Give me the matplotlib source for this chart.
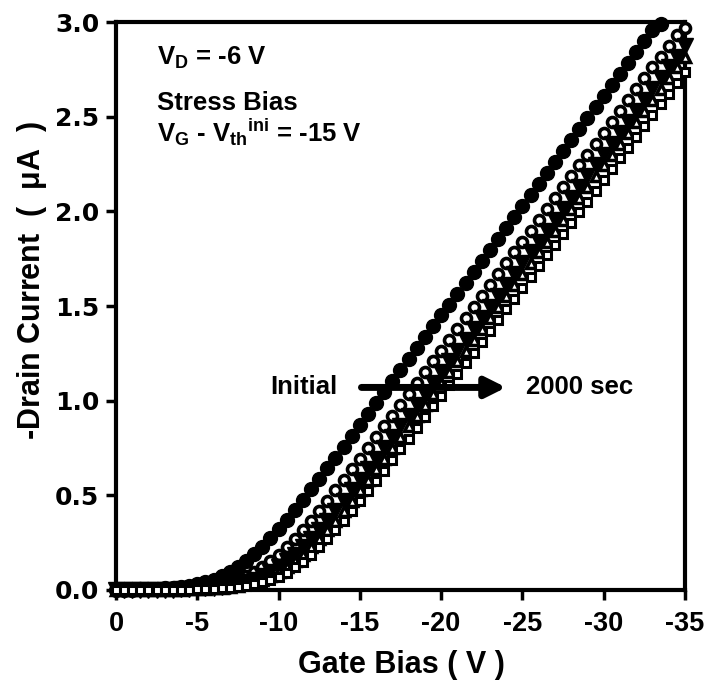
import matplotlib
matplotlib.use('Agg')
import matplotlib.pyplot as plt

plt.rcParams['font.family'] = 'Liberation Sans'
plt.rcParams['font.weight'] = 'bold'
plt.rcParams['axes.unicode_minus'] = False
plt.rcParams['mathtext.fontset'] = 'custom'
plt.rcParams['mathtext.rm'] = 'Liberation Sans:bold'
plt.rcParams['mathtext.bf'] = 'Liberation Sans:bold'
plt.rcParams['mathtext.it'] = 'Liberation Sans:bold'
plt.rcParams['mathtext.default'] = 'bf'

# gate bias sweep (V)
gate_bias = [0, -0.5, -1, -1.5, -2, -2.5, -3, -3.5, -4, -4.5,
             -5, -5.5, -6, -6.5, -7, -7.5, -8, -8.5, -9, -9.5,
             -10, -10.5, -11, -11.5, -12, -12.5, -13, -13.5, -14, -14.5,
             -15, -15.5, -16, -16.5, -17, -17.5, -18, -18.5, -19, -19.5,
             -20, -20.5, -21, -21.5, -22, -22.5, -23, -23.5, -24, -24.5,
             -25, -25.5, -26, -26.5, -27, -27.5, -28, -28.5, -29, -29.5,
             -30, -30.5, -31, -31.5, -32, -32.5, -33, -33.5, -34, -34.5,
             -35]

# -drain current (uA), initial and after stress
initial = [0.001, 0.002, 0.002, 0.003, 0.004, 0.006, 0.009, 0.012, 0.016, 0.022,
           0.030, 0.041, 0.055, 0.072, 0.094, 0.121, 0.152, 0.188, 0.229, 0.273,
           0.320, 0.370, 0.422, 0.476, 0.531, 0.586, 0.643, 0.699, 0.756, 0.814,
           0.871, 0.929, 0.987, 1.044, 1.102, 1.160, 1.218, 1.276, 1.334, 1.392,
           1.450, 1.508, 1.566, 1.624, 1.682, 1.740, 1.798, 1.856, 1.914, 1.972,
           2.030, 2.088, 2.146, 2.204, 2.262, 2.320, 2.378, 2.436, 2.494, 2.552,
           2.610, 2.668, 2.726, 2.784, 2.842, 2.900, 2.958, 2.990]

stress_a = [0.000, 0.001, 0.001, 0.001, 0.002, 0.002, 0.003, 0.004, 0.006, 0.008,
            0.012, 0.016, 0.022, 0.030, 0.040, 0.054, 0.072, 0.093, 0.120, 0.151,
            0.187, 0.227, 0.270, 0.317, 0.367, 0.419, 0.472, 0.526, 0.581, 0.637,
            0.693, 0.750, 0.807, 0.864, 0.921, 0.978, 1.035, 1.093, 1.150, 1.208,
            1.265, 1.323, 1.380, 1.438, 1.495, 1.553, 1.610, 1.668, 1.725, 1.783,
            1.840, 1.898, 1.955, 2.013, 2.070, 2.128, 2.185, 2.243, 2.300, 2.358,
            2.415, 2.473, 2.530, 2.588, 2.645, 2.703, 2.760, 2.818, 2.875, 2.933,
            2.970]

stress_b = [0.000, 0.000, 0.000, 0.001, 0.001, 0.001, 0.002, 0.002, 0.003, 0.004,
            0.006, 0.008, 0.012, 0.016, 0.022, 0.030, 0.040, 0.054, 0.072, 0.093,
            0.120, 0.151, 0.187, 0.227, 0.270, 0.317, 0.367, 0.419, 0.472, 0.526,
            0.581, 0.637, 0.693, 0.750, 0.807, 0.864, 0.921, 0.978, 1.035, 1.093,
            1.150, 1.208, 1.265, 1.323, 1.380, 1.438, 1.495, 1.553, 1.610, 1.668,
            1.725, 1.783, 1.840, 1.898, 1.955, 2.013, 2.070, 2.128, 2.185, 2.243,
            2.300, 2.358, 2.415, 2.473, 2.530, 2.588, 2.645, 2.703, 2.760, 2.818,
            2.875]

stress_c = [0.000, 0.000, 0.000, 0.000, 0.001, 0.001, 0.001, 0.002, 0.002, 0.003,
            0.004, 0.006, 0.008, 0.012, 0.016, 0.022, 0.030, 0.040, 0.054, 0.072,
            0.093, 0.120, 0.151, 0.187, 0.227, 0.270, 0.317, 0.367, 0.419, 0.472,
            0.526, 0.581, 0.637, 0.693, 0.750, 0.807, 0.864, 0.921, 0.978, 1.035,
            1.093, 1.150, 1.208, 1.265, 1.323, 1.380, 1.438, 1.495, 1.553, 1.610,
            1.668, 1.725, 1.783, 1.840, 1.898, 1.955, 2.013, 2.070, 2.128, 2.185,
            2.243, 2.300, 2.358, 2.415, 2.473, 2.530, 2.588, 2.645, 2.703, 2.760,
            2.818]

stress_2000s = [0.000, 0.000, 0.000, 0.000, 0.000, 0.001, 0.001, 0.001, 0.002, 0.002,
                0.003, 0.004, 0.006, 0.008, 0.012, 0.016, 0.022, 0.030, 0.040, 0.054,
                0.071, 0.092, 0.119, 0.149, 0.185, 0.225, 0.268, 0.315, 0.364, 0.415,
                0.468, 0.521, 0.576, 0.631, 0.687, 0.743, 0.800, 0.856, 0.913, 0.970,
                1.026, 1.083, 1.140, 1.197, 1.254, 1.311, 1.368, 1.425, 1.482, 1.539,
                1.596, 1.653, 1.710, 1.767, 1.824, 1.881, 1.938, 1.995, 2.052, 2.109,
                2.166, 2.223, 2.280, 2.337, 2.394, 2.451, 2.508, 2.565, 2.622, 2.679,
                2.736]

x_ticks = [0, -5, -10, -15, -20, -25, -30, -35]
y_ticks = [0.0, 0.5, 1.0, 1.5, 2.0, 2.5, 3.0]

fig = plt.figure(figsize=(7.05, 6.89), dpi=100)
ax = fig.add_axes([0.1645, 0.1437, 0.8071, 0.8243])

ax.plot(gate_bias[:len(initial)], initial, 'o', color='black', ms=10, clip_on=False, zorder=3)
ax.plot(gate_bias, stress_a, 'o', mfc='white', mec='black', ms=7.2, mew=2.6, clip_on=False, zorder=4)
ax.plot(gate_bias, stress_b, 'v', color='black', ms=11, clip_on=False, zorder=5)
ax.plot(gate_bias, stress_c, '^', mfc='white', mec='black', ms=7.5, mew=2.5, clip_on=False, zorder=6)
ax.plot(gate_bias, stress_2000s, 's', mfc='white', mec='black', ms=5.5, mew=2.2, clip_on=False, zorder=7)

ax.set_xlim(0, -35)
ax.set_ylim(0, 3.0)
ax.set_xticks(x_ticks)
ax.set_xticklabels([str(t) for t in x_ticks])
ax.set_yticks(y_ticks)
ax.set_yticklabels(['%.1f' % t for t in y_ticks], family='DejaVu Sans', fontweight='bold', fontsize=18)
ax.tick_params(direction='out', length=7, width=2.5)
ax.tick_params(axis='x', labelsize=19.5, pad=8)
ax.tick_params(axis='y', pad=5)

for s in ax.spines.values():
    s.set_linewidth(3)

fig.text(401 / 705, 1 - 665 / 689, 'Gate Bias ( V )', fontsize=22, fontweight='bold',
         ha='center', va='center')
fig.text(32 / 705, 1 - 280 / 689, '-Drain Current  (  $\\mu$A  )', fontsize=22, fontweight='bold',
         ha='center', va='center', rotation=90)

ax.text(0.072, 0.924, 'V$_{D}$ = -6 V', transform=ax.transAxes, fontsize=18.5, va='baseline')
ax.text(0.072, 0.845, 'Stress Bias', transform=ax.transAxes, fontsize=18.5, va='baseline')
ax.text(0.072, 0.790, 'V$_{G}$ - V$_{th}{}^{ini}$ = -15 V', transform=ax.transAxes, fontsize=18.5, va='baseline')

ax.annotate('', xy=(-24.0, 1.07), xytext=(-15.1, 1.07),
            arrowprops=dict(arrowstyle='-|>', lw=5, color='black', mutation_scale=30, shrinkA=0, shrinkB=0),
            zorder=10)
ax.text(-13.6, 1.07, 'Initial', ha='right', va='center', fontsize=18.5)
ax.text(-25.2, 1.07, '2000 sec', ha='left', va='center', fontsize=18.5)

plt.savefig('out.png', dpi=100)
